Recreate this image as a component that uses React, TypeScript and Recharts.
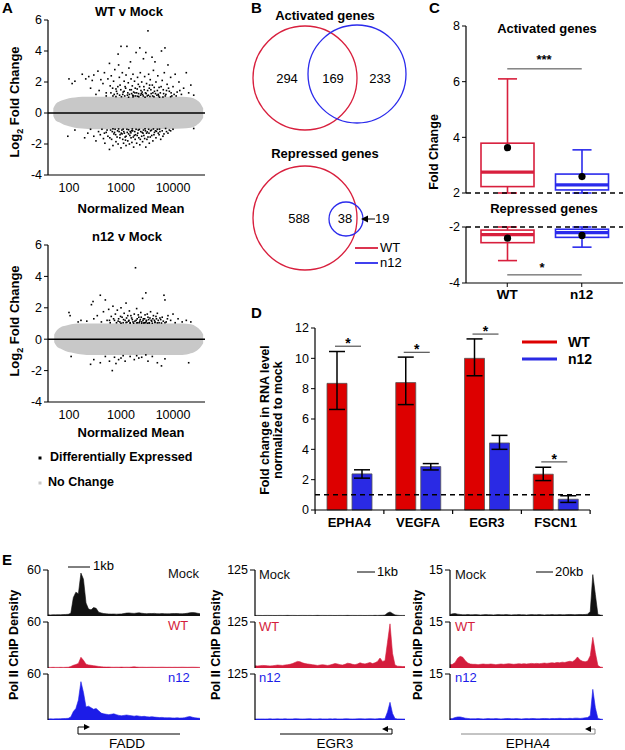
import React from 'react';
import { ComposedChart, ScatterChart, AreaChart, Scatter, Area, Bar, ErrorBar, LabelList, XAxis, YAxis, ReferenceLine } from 'recharts';

const FONT = '"Liberation Sans", Arial, Helvetica, sans-serif';
const RED = '#d81f3d';
const BLUE = '#2b2bec';
const BAR_RED = '#dd0000';
const BAR_BLUE = '#2a2ae4';
const TRACK_COLORS = ['#111111', '#d41c3c', '#1c1ce8'];

// ---------------- Panel A : MA plots ----------------
const maTicks = [100, 1000, 10000];
const lfcTicks = [-4, -2, 0, 2, 4, 6];

const wtBand: [number, number, number][] = [
  [50, -0.2, 0.3], [56, -0.5, 0.6], [65, -0.6, 0.75], [80, -0.75, 0.85], [100, -0.85, 0.95],
  [130, -0.95, 1.0], [180, -1.0, 1.05], [300, -1.05, 1.05], [1000, -1.05, 1.05], [5000, -1.05, 1.05],
  [15000, -1.0, 1.05], [22000, -0.95, 1.0], [28000, -0.8, 0.85], [34000, -0.55, 0.6], [38000, -0.3, 0.3],
];
const n12Band: [number, number, number][] = [
  [52, -0.2, 0.3], [58, -0.45, 0.55], [68, -0.6, 0.75], [85, -0.75, 0.85], [110, -0.85, 0.95],
  [150, -0.95, 1.0], [220, -1.0, 1.0], [400, -1.0, 1.0], [1000, -1.0, 1.0], [5000, -1.0, 1.0],
  [15000, -1.0, 1.0], [22000, -0.9, 0.95], [28000, -0.75, 0.8], [34000, -0.5, 0.55], [38000, -0.25, 0.3],
];

const wtUp: [number, number][] = [
  [100, 2.2], [115, 1.9], [130, 2.05], [180, 2.5], [210, 2.2], [240, 2.35], [260, 1.6], [280, 2.1], [300, 2.45], [330, 1.2],
  [360, 2.7], [380, 1.45], [410, 2.15], [450, 1.9], [480, 2.6], [520, 1.3], [560, 2.2], [600, 3.2], [620, 1.75], [650, 2.4],
  [700, 1.1], [720, 2.05], [760, 2.8], [800, 1.55], [850, 1.25], [880, 3.8], [900, 3.1], [930, 2.3], [960, 1.8], [1000, 4.3],
  [1020, 1.05], [1060, 2.6], [1100, 1.35], [1150, 2.05], [1200, 1.7], [1250, 2.45], [1300, 4.3], [1330, 1.15], [1380, 1.95], [1420, 2.9],
  [1480, 1.5], [1520, 3.3], [1560, 2.2], [1600, 1.25], [1650, 1.75], [1700, 2.5], [1760, 1.1], [1820, 2.05], [1880, 1.6], [1950, 3.9],
  [2000, 1.3], [2080, 2.3], [2150, 1.85], [2200, 1.05], [2300, 4.2], [2350, 2.6], [2420, 1.45], [2500, 2.0], [2600, 1.2], [2700, 3.5],
  [2750, 1.7], [2850, 2.35], [2950, 1.3], [3000, 3.9], [3100, 1.9], [3200, 1.1], [3300, 5.3], [3400, 2.5], [3500, 1.6], [3650, 2.15],
  [3800, 1.25], [3950, 3.6], [4000, 1.8], [4200, 2.75], [4400, 1.4], [4500, 3.3], [4700, 2.0], [4900, 1.15], [5100, 2.4], [5400, 1.65],
  [5700, 1.3], [6000, 4.0], [6200, 2.1], [6500, 1.5], [6800, 2.6], [7000, 4.2], [7300, 1.2], [7700, 1.85], [8000, 3.1], [8500, 1.4],
  [9000, 2.3], [9500, 1.1], [10000, 1.7], [11000, 2.5], [12000, 1.35], [13000, 2.0], [14500, 1.2], [16000, 1.6], [18000, 2.6], [20000, 1.3],
  [22000, 1.8], [25000, 1.15], [1400, 1.02], [2100, 1.08], [2900, 1.02], [4300, 1.05], [6400, 1.03], [1700, 1.04], [800, 1.06], [3600, 1.07],
  [5500, 1.02], [9000, 1.05], [1150, 1.4], [1750, 1.35], [2450, 1.25], [3250, 1.45], [4100, 1.3], [5200, 1.2], [7500, 1.45], [11500, 1.1],
  [520, 1.1], [640, 1.3], [690, 1.6], [740, 1.2], [820, 1.4], [870, 1.7], [940, 1.15], [990, 1.5], [1080, 1.2], [1180, 1.1],
  [1230, 1.6], [1350, 1.3], [1450, 1.2], [1580, 1.5], [1680, 1.15], [1850, 1.3], [1920, 1.1], [2050, 1.55], [2180, 1.25], [2280, 1.7],
  [2380, 1.15], [2550, 1.35], [2680, 1.1], [2800, 1.5], [3050, 1.25], [3350, 1.15], [3550, 1.8], [3750, 1.5], [4050, 1.1], [4350, 1.65],
  [4600, 1.25], [5000, 1.45], [5300, 1.1], [5900, 1.7], [6600, 1.25], [7100, 1.1], [8200, 1.6], [9200, 1.3], [10500, 1.2], [13500, 1.45],
];
const wtDown: [number, number][] = [
  [95, -1.5], [130, -1.1], [200, -1.6], [230, -1.3], [260, -1.05], [300, -1.5], [330, -1.8], [370, -1.2], [400, -1.4], [430, -1.05],
  [460, -1.65], [490, -1.95], [520, -1.25], [560, -1.5], [600, -2.35], [630, -1.1], [660, -1.7], [700, -2.1], [730, -1.35], [770, -1.05],
  [800, -1.85], [840, -1.55], [880, -2.0], [920, -1.2], [960, -1.4], [1000, -2.25], [1040, -1.1], [1080, -1.7], [1120, -1.95], [1160, -1.3],
  [1200, -1.55], [1250, -2.1], [1300, -1.05], [1350, -1.8], [1400, -1.35], [1450, -2.0], [1500, -1.2], [1560, -1.6], [1620, -1.9], [1680, -1.15],
  [1750, -2.2], [1800, -1.45], [1870, -1.7], [1950, -1.05], [2000, -1.95], [2100, -1.3], [2200, -1.6], [2300, -2.05], [2400, -1.2], [2500, -1.5],
  [2600, -1.85], [2700, -1.1], [2850, -1.65], [3000, -2.2], [3100, -1.3], [3300, -1.55], [3500, -1.95], [3700, -1.15], [3900, -1.45], [4100, -1.8],
  [4400, -1.25], [4700, -1.6], [5000, -1.05], [5400, -1.4], [5800, -1.7], [6200, -1.15], [6700, -1.35], [7200, -1.0], [8000, -1.3], [9000, -1.15],
  [10000, -1.05], [25000, -1.0], [700, -1.02], [1100, -1.04], [1650, -1.03], [2250, -1.06], [2900, -1.02], [3400, -1.05], [4200, -1.03], [1400, -1.08],
  [900, -1.03], [5500, -1.04], [750, -1.25], [1050, -1.35], [1550, -1.28], [1900, -1.4], [2650, -1.3], [3200, -1.22], [4800, -1.18], [1250, -1.5],
  [480, -1.3], [540, -1.1], [610, -1.6], [680, -1.2], [790, -1.4], [860, -1.15], [950, -1.6], [1010, -1.3], [1130, -1.2], [1220, -1.75],
  [1320, -1.25], [1480, -1.45], [1600, -1.15], [1720, -1.55], [1840, -1.2], [2050, -1.45], [2150, -1.1], [2350, -1.7], [2550, -1.25], [2750, -1.45],
  [2950, -1.15], [3150, -1.7], [3450, -1.3], [3650, -1.55], [3850, -1.1], [4300, -1.4], [4600, -1.15], [5200, -1.3], [5600, -1.2], [6400, -1.5],
  [7500, -1.2], [8500, -1.1],
];
const n12Up: [number, number][] = [
  [100, 1.7], [105, 1.5], [150, 1.1], [170, 1.2], [220, 1.15], [270, 2.2], [290, 2.4], [300, 1.3], [350, 1.5], [400, 2.8],
  [420, 1.1], [460, 1.75], [500, 2.5], [540, 1.2], [580, 1.9], [620, 1.05], [650, 1.45], [700, 2.1], [750, 1.2], [780, 1.6],
  [820, 1.05], [850, 1.85], [900, 1.3], [950, 1.1], [1000, 2.0], [1050, 1.4], [1100, 1.05], [1150, 1.65], [1200, 1.2], [1250, 2.3],
  [1300, 1.08], [1350, 1.5], [1400, 1.15], [1450, 1.8], [1500, 1.05], [1600, 1.35], [1700, 1.1], [1800, 1.6], [1900, 4.55], [1950, 1.2],
  [2000, 1.95], [2100, 1.05], [2200, 1.4], [2300, 1.15], [2400, 1.7], [2500, 1.1], [2600, 2.6], [2700, 1.3], [2800, 1.05], [2900, 1.55],
  [3000, 2.95], [3100, 1.2], [3300, 1.4], [3500, 1.05], [3700, 1.75], [3900, 1.15], [4200, 1.5], [4500, 1.1], [4800, 1.3], [5000, 1.65],
  [5400, 1.05], [5800, 1.25], [6200, 1.4], [6700, 2.8], [7000, 2.5], [7400, 1.1], [8000, 1.5], [9000, 1.2], [10000, 1.6], [11000, 1.05],
  [12500, 1.3], [15000, 1.1], [18000, 1.2], [22000, 1.1], [1000, 1.02], [1500, 1.03], [2000, 1.04], [2500, 1.02], [3000, 1.05], [3500, 1.03],
  [4000, 1.02], [5000, 1.04], [1250, 1.06], [1750, 1.02], [2250, 1.05], [2750, 1.03], [3250, 1.02], [4500, 1.06], [6000, 1.03], [7000, 1.05],
  [600, 1.2], [720, 1.3], [880, 1.15], [980, 1.45], [1120, 1.25], [1280, 1.35], [1420, 1.2], [1550, 1.5], [1650, 1.25], [1850, 1.15],
  [2050, 1.3], [2150, 1.55], [2350, 1.25], [2450, 1.4], [2650, 1.2], [2850, 1.3], [3050, 1.15], [3200, 1.6], [3400, 1.25], [3600, 1.35],
  [3800, 1.2], [4100, 1.3], [4400, 1.2], [4700, 1.45], [5200, 1.2], [5600, 1.35], [6500, 1.15], [7800, 1.3],
];
const n12Down: [number, number][] = [
  [110, -1.1], [260, -1.6], [300, -1.3], [400, -1.5], [500, -1.1], [600, -1.4], [680, -2.0], [750, -1.15], [800, -1.55], [900, -1.3],
  [1000, -1.2], [1100, -1.05], [1200, -1.4], [1500, -1.1], [1800, -1.3], [2000, -1.05], [2200, -1.2], [2500, -1.15], [3000, -1.0], [3300, -1.4],
  [4000, -1.1], [5000, -1.5], [6000, -1.7], [7000, -1.25], [20000, -1.5],
];

// ---------------- Panel B : Venn ----------------
const activatedCounts = [294, 169, 233];
const repressedCounts = [588, 38, 19];

// ---------------- Panel C : box plots ----------------
const activatedBoxes = [
  { g: 'WT', min: 2.0, q1: 2.23, med: 2.75, q3: 3.79, max: 6.1, mean: 3.63 },
  { g: 'n12', min: 2.0, q1: 2.11, med: 2.29, q3: 2.68, max: 3.55, mean: 2.59 },
];
const repressedBoxes = [
  { g: 'WT', min: -3.2, q1: -2.56, med: -2.27, q3: -2.11, max: -2.0, mean: -2.4 },
  { g: 'n12', min: -2.72, q1: -2.37, med: -2.2, q3: -2.08, max: -2.0, mean: -2.3 },
];
const boxColor: Record<string, string> = { WT: RED, n12: BLUE };

// ---------------- Panel D : bar chart ----------------
const genesD = ['EPHA4', 'VEGFA', 'EGR3', 'FSCN1'];
const wtFold = [8.35, 8.4, 10.0, 2.36];
const wtFoldErr: [number, number][] = [[1.72, 2.1], [1.45, 1.68], [1.15, 1.28], [0.42, 0.46]];
const n12Fold = [2.38, 2.86, 4.42, 0.71];
const n12FoldErr: [number, number][] = [[0.28, 0.27], [0.22, 0.2], [0.42, 0.5], [0.21, 0.23]];
const sigHeights = [10.8, 10.4, 11.6, 3.17];
const dTicks = [0, 2, 4, 6, 8, 10, 12];

// ---------------- Panel E : Pol II tracks ----------------
const mockFADD = [1.5, 1.4, 1.6, 1.5, 1.7, 1.6, 1.8, 2.0, 2.2, 3.5, 24, 31, 29, 56, 48, 17, 9, 8, 11, 10, 5, 4, 3.2, 2.8, 2.6, 2.5, 2.6, 2.4, 2.5, 2.7, 3.2, 3.8, 4, 3.6, 3.4, 3.8, 4.1, 3.6, 3.2, 3, 3.3, 3.1, 3.4, 3, 2.9, 3.1, 3.0, 2.8, 2.9, 3.1, 3.2, 3.3, 3.0, 2.9, 3.1, 3.6, 4.2, 4.5, 4.3, 3.6, 3.0];
const wtFADD = [0.8, 0.8, 0.9, 0.8, 0.8, 0.9, 0.8, 0.9, 1.0, 2.0, 3.5, 4.5, 6, 14, 10, 5, 4, 3.5, 3, 2.5, 2, 1.6, 1.4, 1.2, 1.3, 1.1, 1.0, 1.1, 1.0, 1.2, 1.0, 1.1, 1.0, 1.3, 1.6, 1.2, 1.0, 1.1, 1.0, 0.9, 1.0, 1.1, 1.0, 0.9, 1.0, 1.1, 1.0, 0.9, 1.0, 0.9, 1.0, 0.9, 1.0, 1.1, 1.0, 0.9, 1.0, 1.1, 1.0, 0.9, 0.8];
const n12FADD = [1.3, 1.5, 1.4, 1.6, 1.5, 1.7, 1.8, 2.0, 2.2, 4, 11, 15, 26, 50, 36, 17, 18, 16, 14, 15, 12, 9, 8, 7.5, 7, 7.5, 8, 7, 6, 5.5, 6, 6.5, 6, 5.5, 5, 5.5, 5, 4.5, 4.8, 4.2, 4, 4.3, 3.8, 3.5, 3.2, 3.4, 3, 2.8, 3, 2.7, 2.6, 2.8, 2.5, 2.7, 3, 4, 4.5, 3.6, 2.8, 2.5, 2.2];
const mockEGR3 = [1.5, 1.6, 1.5, 1.4, 1.5, 1.6, 1.5, 1.5, 1.4, 1.5, 1.6, 1.5, 1.5, 1.7, 1.5, 1.6, 1.5, 1.4, 1.5, 1.6, 1.5, 1.5, 1.6, 1.4, 1.5, 1.7, 1.5, 1.6, 1.5, 1.5, 1.6, 1.5, 1.4, 1.5, 1.6, 1.5, 1.5, 1.7, 1.5, 1.6, 1.5, 1.5, 1.6, 1.5, 1.4, 1.5, 1.6, 1.5, 1.7, 1.6, 1.8, 2.0, 2.5, 8, 11, 7, 3, 2, 1.5, 1.5, 1.5];
const wtEGR3 = [6, 5.5, 6, 7, 6.5, 6, 5.5, 6, 7, 8, 7.5, 7, 8, 9, 10, 12, 15, 18, 17, 14, 12, 11, 10, 9, 8, 7, 8, 9, 8, 7, 8, 10, 12, 11, 9, 8, 10, 13, 12, 10, 9, 11, 14, 12, 11, 13, 15, 12, 14, 18, 27, 18, 20, 70, 120, 40, 8, 5, 4.5, 4, 4];
const n12EGR3 = [2.5, 3, 2.8, 3, 2.7, 3, 3.2, 2.8, 3, 3.1, 2.9, 3, 3.3, 3, 2.8, 3, 3.5, 3.2, 3, 2.9, 3, 3.1, 3.4, 3, 2.8, 3, 3.2, 3, 2.9, 3, 3.1, 3, 3.3, 3, 2.8, 3, 3.2, 3.4, 3, 2.9, 3, 3.2, 3.5, 3.1, 3, 3.3, 3.6, 3.2, 3, 3.5, 4, 3.5, 4, 22, 48, 18, 4, 3, 2.8, 2.7, 2.5];
const mockEPHA4 = [0.5, 0.7, 0.8, 0.6, 0.5, 0.4, 0.4, 0.5, 0.4, 0.4, 0.45, 0.4, 0.35, 0.4, 0.45, 0.4, 0.4, 0.35, 0.4, 0.45, 0.4, 0.4, 0.45, 0.4, 0.35, 0.4, 0.4, 0.45, 0.4, 0.4, 0.35, 0.4, 0.45, 0.4, 0.4, 0.45, 0.4, 0.35, 0.4, 0.4, 0.45, 0.4, 0.4, 0.45, 0.4, 0.4, 0.45, 0.5, 0.45, 0.4, 0.45, 0.5, 0.45, 0.5, 0.6, 1.5, 13.5, 7, 0.5, 0.3, 0.2];
const wtEPHA4 = [1.1, 1.2, 1.8, 3.2, 3.8, 3.5, 2.4, 1.6, 1.3, 1.2, 1.2, 1.1, 1.2, 1.3, 1.2, 1.2, 1.3, 1.2, 1.1, 1.2, 1.3, 1.2, 1.3, 1.4, 1.3, 1.2, 1.3, 1.4, 1.3, 1.4, 1.3, 1.4, 1.5, 1.4, 1.5, 1.4, 1.5, 1.6, 1.5, 1.6, 1.7, 1.6, 1.8, 1.7, 1.9, 1.8, 2.0, 2.2, 2.0, 2.6, 3.6, 2.6, 2.2, 2.0, 2.3, 4, 10, 5, 0.8, 0.3, 0.2];
const n12EPHA4 = [0.4, 0.5, 0.8, 1.0, 1.0, 0.8, 0.6, 0.5, 0.4, 0.4, 0.4, 0.45, 0.4, 0.35, 0.4, 0.45, 0.4, 0.4, 0.45, 0.4, 0.35, 0.4, 0.45, 0.5, 0.4, 0.4, 0.45, 0.4, 0.35, 0.4, 0.45, 0.4, 0.5, 0.45, 0.4, 0.4, 0.45, 0.5, 0.45, 0.4, 0.5, 0.45, 0.5, 0.55, 0.5, 0.45, 0.5, 0.55, 0.5, 0.6, 0.6, 0.5, 0.6, 0.7, 0.8, 1.5, 10, 4, 0.5, 0.3, 0.2];
const trackLabels = ['Mock', 'WT', 'n12'];

// ---------------- helpers ----------------
type TP = { x: number; y: number; children: React.ReactNode; size?: number; bold?: boolean; color?: string; anchor?: 'start' | 'middle' | 'end'; rotate?: boolean };
function T({ x, y, children, size = 12.5, bold = false, color = '#000', anchor = 'start', rotate = false }: TP) {
  const tx = anchor === 'middle' ? '-50%' : anchor === 'end' ? '-100%' : '0';
  return (
    <div style={{
      position: 'absolute', left: x, top: y,
      transform: rotate ? 'translate(-50%,-50%) rotate(-90deg)' : `translate(${tx},-50%)`,
      fontFamily: FONT, fontSize: size, fontWeight: bold ? 700 : 400, color, whiteSpace: 'nowrap',
      lineHeight: 1.05, textAlign: 'center',
    }}>{children}</div>
  );
}

const tickStyle = { fill: '#000', fontSize: 12.5, fontFamily: FONT };
const axisLine = { stroke: '#000', strokeWidth: 1.2 };

const blackDot = (p: any) => <rect x={p.cx - 0.8} y={p.cy - 0.8} width={1.6} height={1.6} fill="#000" />;

function MAPlot({ top, height, band, up, down }: { top: number; height: number; band: [number, number, number][]; up: [number, number][]; down: [number, number][] }) {
  const bandData = band.map(([x, lo, hi]) => ({ x, band: [lo, hi] }));
  const pts = [...up, ...down].map(([x, y]) => ({ x, y }));
  return (
    <div style={{ position: 'absolute', left: 0, top }}>
      <ComposedChart width={215} height={height} data={bandData} margin={{ top: 20, right: 10, left: 0, bottom: 0 }}>
        <XAxis dataKey="x" type="number" scale="log" domain={[39.5, 41200]} ticks={maTicks} allowDataOverflow
          tickLine={false} axisLine={axisLine} height={25} tick={tickStyle} interval={0} />
        <YAxis type="number" domain={[-4, 6]} ticks={lfcTicks} width={48} tickSize={4} axisLine={axisLine}
          tickLine={{ stroke: '#000' }} tick={tickStyle} interval={0} />
        <Area dataKey="band" type="monotone" stroke="none" fill="#c8c8c8" fillOpacity={1} isAnimationActive={false} />
        <ReferenceLine y={0} stroke="#000" strokeWidth={1.6} />
        <Scatter data={pts} dataKey="y" shape={blackDot} isAnimationActive={false} />
      </ComposedChart>
    </div>
  );
}

function BoxShape(props: any) {
  const { x, y, width, height, payload } = props;
  const top = Math.min(y, y + height);
  const bot = Math.max(y, y + height);
  const px = (v: number) => bot - ((v - payload.min) / (payload.max - payload.min)) * (bot - top);
  const c = boxColor[payload.g];
  const cx = x + width / 2;
  const cap = width * 0.18;
  return (
    <g>
      <line x1={cx} x2={cx} y1={px(payload.max)} y2={px(payload.q3)} stroke={c} strokeWidth={1.6} />
      <line x1={cx} x2={cx} y1={px(payload.q1)} y2={px(payload.min)} stroke={c} strokeWidth={1.6} />
      <line x1={cx - cap} x2={cx + cap} y1={px(payload.max)} y2={px(payload.max)} stroke={c} strokeWidth={1.6} />
      <line x1={cx - cap} x2={cx + cap} y1={px(payload.min)} y2={px(payload.min)} stroke={c} strokeWidth={1.6} />
      <rect x={x} y={px(payload.q3)} width={width} height={px(payload.q1) - px(payload.q3)} fill="#fff" stroke={c} strokeWidth={1.6} />
      <line x1={x} x2={x + width} y1={px(payload.med)} y2={px(payload.med)} stroke={c} strokeWidth={3.2} />
      <circle cx={cx} cy={px(payload.mean)} r={3.6} fill="#000" />
    </g>
  );
}

// significance bracket + category boundary tick, placed from the WT bar geometry
const BAND_W = 68.75;
function SigMark(p: any) {
  const vb = p.viewBox && p.viewBox.width !== undefined ? p.viewBox : p;
  const x = Number(vb.x), y = Number(vb.y), w = Number(vb.width), h = Number(vb.height);
  const i = Number(p.index);
  if (!isFinite(x) || !isFinite(h) || !isFinite(i)) return null;
  const top = Math.min(y, y + h);
  const base = Math.max(y, y + h);
  const ppu = (base - top) / wtFold[i];
  const sy = base - sigHeights[i] * ppu;
  const x1 = x + 0.4 * w;
  const x2 = x + 1.7 * w;
  const bx = x - (BAND_W - 2 * w - 5) / 2;
  return (
    <g>
      <line x1={x1} x2={x2} y1={sy} y2={sy} stroke="#333" strokeWidth={1} />
      <text x={(x1 + x2) / 2} y={sy + 2} textAnchor="middle" fontSize={14} fontWeight={700} fontFamily={FONT} fill="#000">*</text>
      <line x1={bx} x2={bx} y1={base} y2={base + 4} stroke="#000" strokeWidth={1.2} />
      {i === genesD.length - 1 && <line x1={bx + BAND_W} x2={bx + BAND_W} y1={base} y2={base + 4} stroke="#000" strokeWidth={1.2} />}
    </g>
  );
}

function Track({ left, top, width, yw, mr, data, max, color, axis }: any) {
  const d = data.map((v: number, i: number) => ({ i, v }));
  return (
    <div style={{ position: 'absolute', left, top: top - 8 }}>
      <AreaChart width={width} height={57} data={d} margin={{ top: 8, right: mr, left: 0, bottom: 3 }}>
        <XAxis dataKey="i" type="number" domain={[0, 60]} hide={!axis} tick={false} tickLine={false} height={0} axisLine={axisLine} />
        <YAxis type="number" domain={[0, max]} ticks={[max]} width={yw} tickSize={5} axisLine={axisLine}
          tickLine={{ stroke: '#000' }} tick={tickStyle} interval={0} />
        <Area type="linear" dataKey="v" stroke={color} strokeWidth={0.6} fill={color} fillOpacity={1} isAnimationActive={false} baseValue={0} />
      </AreaChart>
    </div>
  );
}

export default function App() {
  const vennLayout = [
    { x: 90, y: 78, r: 52, c: RED },
    { x: 142, y: 74, r: 49, c: BLUE },
    { x: 90, y: 218, r: 52, c: RED },
    { x: 131, y: 219, r: 17, c: BLUE },
  ];
  const vennShape = (p: any) => <circle cx={p.cx} cy={p.cy} r={p.payload.r} fill="none" stroke={p.payload.c} strokeWidth={1.3} />;

  const dData = genesD.map((g, i) => ({ gene: g, wt: wtFold[i], wtErr: wtFoldErr[i], n12: n12Fold[i], n12Err: n12FoldErr[i] }));

  const trackCols = [
    { left: 0, width: 205, yw: 48, mr: 5, max: 60, series: [mockFADD, wtFADD, n12FADD] },
    { left: 205, width: 205, yw: 50, mr: 5, max: 125, series: [mockEGR3, wtEGR3, n12EGR3] },
    { left: 410, width: 200, yw: 40, mr: 7, max: 15, series: [mockEPHA4, wtEPHA4, n12EPHA4] },
  ];
  const trackTops = [570, 622, 674];

  return (
    <div style={{ position: 'absolute', left: 0, top: 0, width: 625, height: 750, background: '#fff', overflow: 'hidden', fontFamily: FONT }}>
      {/* Panel A */}
      <MAPlot top={0} height={200} band={wtBand} up={wtUp} down={wtDown} />
      <MAPlot top={225} height={202} band={n12Band} up={n12Up} down={n12Down} />

      {/* Panel B: Venn */}
      <div style={{ position: 'absolute', left: 215, top: 0 }}>
        <ScatterChart width={200} height={300} margin={{ top: 0, right: 0, left: 0, bottom: 0 }}>
          <XAxis dataKey="x" type="number" domain={[0, 200]} hide />
          <YAxis dataKey="y" type="number" domain={[0, 300]} reversed hide />
          <Scatter data={vennLayout} shape={vennShape} isAnimationActive={false} />
        </ScatterChart>
      </div>

      {/* Panel C upper */}
      <div style={{ position: 'absolute', left: 410, top: 0 }}>
        <ComposedChart width={215} height={200} data={activatedBoxes} margin={{ top: 26, right: 2, left: 0, bottom: 7 }} barSize={53}>
          <XAxis dataKey="g" hide padding={{ left: 4, right: 4 }} />
          <YAxis type="number" domain={[2, 8]} ticks={[2, 4, 6, 8]} width={56} tickSize={4} axisLine={axisLine}
            tickLine={{ stroke: '#000' }} tick={tickStyle} interval={0} />
          <ReferenceLine y={2} stroke="#000" strokeDasharray="5 4" strokeWidth={1.3} />
          <Bar dataKey={(d: any) => [d.min, d.max]} shape={BoxShape} isAnimationActive={false} />
          <ReferenceLine segment={[{ x: 'WT', y: 6.46 }, { x: 'n12', y: 6.46 }]} stroke="#444" strokeWidth={1} />
        </ComposedChart>
      </div>
      {/* Panel C lower */}
      <div style={{ position: 'absolute', left: 410, top: 205 }}>
        <ComposedChart width={215} height={100} data={repressedBoxes} margin={{ top: 22, right: 2, left: 0, bottom: 5 }} barSize={53}>
          <XAxis dataKey="g" padding={{ left: 4, right: 4 }} height={17} tickSize={4} axisLine={axisLine}
            tickLine={{ stroke: '#000' }} tick={{ ...tickStyle, fontSize: 13.5, fontWeight: 700 }} interval={0} />
          <YAxis type="number" domain={[-4, -2]} ticks={[-4, -2]} width={56} tickSize={4} axisLine={axisLine}
            tickLine={{ stroke: '#000' }} tick={tickStyle} interval={0} />
          <ReferenceLine y={-2} stroke="#000" strokeDasharray="5 4" strokeWidth={1.3} />
          <Bar dataKey={(d: any) => [d.min, d.max]} shape={BoxShape} isAnimationActive={false} />
          <ReferenceLine segment={[{ x: 'WT', y: -3.71 }, { x: 'n12', y: -3.71 }]} stroke="#444" strokeWidth={1} />
        </ComposedChart>
      </div>

      {/* Panel D */}
      <div style={{ position: 'absolute', left: 210, top: 300 }}>
        <ComposedChart width={415} height={235} data={dData} margin={{ top: 28, right: 35, left: 0, bottom: 0 }} barSize={20} barGap={5}>
          <XAxis dataKey="gene" tickLine={false} axisLine={axisLine} height={25} interval={0}
            tick={{ ...tickStyle, fontSize: 13, fontWeight: 700 }} />
          <YAxis type="number" domain={[0, 12]} ticks={dTicks} width={105} tickSize={4} axisLine={axisLine}
            tickLine={{ stroke: '#000' }} tick={tickStyle} interval={0} />
          <Bar dataKey="wt" fill={BAR_RED} stroke="#555" strokeWidth={0.8} isAnimationActive={false}>
            <ErrorBar dataKey="wtErr" width={8} stroke="#000" strokeWidth={1.5} direction="y" />
            <LabelList dataKey="wt" content={SigMark} />
          </Bar>
          <Bar dataKey="n12" fill={BAR_BLUE} stroke="#555" strokeWidth={0.8} isAnimationActive={false}>
            <ErrorBar dataKey="n12Err" width={8} stroke="#000" strokeWidth={1.5} direction="y" />
          </Bar>
          <ReferenceLine y={1} stroke="#000" strokeDasharray="5 4" strokeWidth={1.5} />
        </ComposedChart>
      </div>

      {/* Panel E tracks */}
      {trackCols.map((col, ci) => col.series.map((s, k) => (
        <Track key={ci + '-' + k} left={col.left} top={trackTops[k]} width={col.width} yw={col.yw} mr={col.mr}
          data={s} max={col.max} color={TRACK_COLORS[k]} axis={k === 2} />
      )))}

      {/* annotation overlay */}
      <svg width={625} height={750} style={{ position: 'absolute', left: 0, top: 0, pointerEvents: 'none' }}>
        <rect x={38.5} y={456.5} width={3} height={3} fill="#000" />
        <rect x={38.5} y={481.5} width={3} height={3} fill="#c8c8c8" />
        <polygon points="361,219 368,215.5 368,222.5" fill="#000" />
        <line x1={367} x2={375} y1={219} y2={219} stroke="#000" strokeWidth={1} />
        <line x1={355} x2={378} y1={248} y2={248} stroke={RED} strokeWidth={1.8} />
        <line x1={355} x2={378} y1={263} y2={263} stroke={BLUE} strokeWidth={1.8} />
        <line x1={522} x2={557} y1={342} y2={342} stroke={BAR_RED} strokeWidth={3} />
        <line x1={522} x2={557} y1={359} y2={359} stroke={BAR_BLUE} strokeWidth={3} />
        <line x1={68} x2={90} y1={567} y2={567} stroke="#000" strokeWidth={1} />
        <line x1={357} x2={375} y1={572} y2={572} stroke="#000" strokeWidth={1} />
        <line x1={536} x2={553} y1={572} y2={572} stroke="#000" strokeWidth={1} />
        <polyline points="180,734 78,734 78,727 84,727" fill="none" stroke="#000" strokeWidth={1} />
        <polygon points="90,727 84,724 84,730" fill="#000" />
        <polyline points="280,734 392,734 392,729 388,729" fill="none" stroke="#000" strokeWidth={1} />
        <polygon points="382,729 388,726 388,732" fill="#000" />
        <polyline points="461,734 595,734 595,729 591,729" fill="none" stroke="#888" strokeWidth={1} />
        <polygon points="585,729 591,726 591,732" fill="#000" />
      </svg>

      {/* panel letters */}
      <T x={2} y={8} size={15} bold>A</T>
      <T x={251} y={8} size={15} bold>B</T>
      <T x={429} y={8} size={15} bold>C</T>
      <T x={251} y={313} size={15} bold>D</T>
      <T x={2} y={560} size={15} bold>E</T>

      {/* A texts */}
      <T x={129} y={12} size={13} bold anchor="middle">WT v Mock</T>
      <T x={127} y={237} size={13} bold anchor="middle">n12 v Mock</T>
      <T x={17} y={102} size={13} bold rotate>Log<sub style={{ fontSize: 9 }}>2</sub> Fold Change</T>
      <T x={17} y={321} size={13} bold rotate>Log<sub style={{ fontSize: 9 }}>2</sub> Fold Change</T>
      <T x={131} y={209} size={13} bold anchor="middle">Normalized Mean</T>
      <T x={131} y={433} size={13} bold anchor="middle">Normalized Mean</T>
      <T x={50} y={458} size={12.5} bold>Differentially Expressed</T>
      <T x={48} y={483} size={12.5} bold>No Change</T>

      {/* B texts */}
      <T x={325} y={16} size={13} bold anchor="middle">Activated genes</T>
      <T x={287} y={79} size={13} anchor="middle">{activatedCounts[0]}</T>
      <T x={333} y={79} size={13} anchor="middle">{activatedCounts[1]}</T>
      <T x={380} y={79} size={13} anchor="middle">{activatedCounts[2]}</T>
      <T x={325} y={154} size={13} bold anchor="middle">Repressed genes</T>
      <T x={299} y={219} size={13} anchor="middle">{repressedCounts[0]}</T>
      <T x={345} y={219} size={13} anchor="middle">{repressedCounts[1]}</T>
      <T x={375} y={219} size={13}>{repressedCounts[2]}</T>
      <T x={380} y={248} size={13}>WT</T>
      <T x={380} y={263} size={13}>n12</T>

      {/* C texts */}
      <T x={547} y={29} size={13} bold anchor="middle">Activated genes</T>
      <T x={544} y={60} size={13} bold anchor="middle">***</T>
      <T x={544} y={209} size={13} bold anchor="middle">Repressed genes</T>
      <T x={542} y={268} size={13} bold anchor="middle">*</T>
      <T x={435} y={152} size={12.5} bold rotate>Fold Change</T>

      {/* D texts */}
      <T x={272} y={420} size={12.5} bold rotate>Fold change in RNA level<br />normalized to mock</T>
      <T x={568} y={342} size={14} bold>WT</T>
      <T x={568} y={359} size={14} bold>n12</T>

      {/* E texts */}
      <T x={15} y={645} size={12.5} bold rotate>Pol II ChIP Density</T>
      <T x={217} y={645} size={12.5} bold rotate>Pol II ChIP Density</T>
      <T x={419} y={645} size={12.5} bold rotate>Pol II ChIP Density</T>
      <T x={93} y={566} size={13}>1kb</T>
      <T x={377} y={572} size={13}>1kb</T>
      <T x={555} y={572} size={13}>20kb</T>
      <T x={168} y={574} size={13} color={TRACK_COLORS[0]}>{trackLabels[0]}</T>
      <T x={168} y={626} size={13} color={TRACK_COLORS[1]}>{trackLabels[1]}</T>
      <T x={168} y={678} size={13} color={TRACK_COLORS[2]}>{trackLabels[2]}</T>
      <T x={259} y={575} size={13} color={TRACK_COLORS[0]}>{trackLabels[0]}</T>
      <T x={259} y={627} size={13} color={TRACK_COLORS[1]}>{trackLabels[1]}</T>
      <T x={259} y={678} size={13} color={TRACK_COLORS[2]}>{trackLabels[2]}</T>
      <T x={455} y={575} size={13} color={TRACK_COLORS[0]}>{trackLabels[0]}</T>
      <T x={455} y={627} size={13} color={TRACK_COLORS[1]}>{trackLabels[1]}</T>
      <T x={455} y={678} size={13} color={TRACK_COLORS[2]}>{trackLabels[2]}</T>
      <T x={127} y={744} size={13.5} anchor="middle">FADD</T>
      <T x={335} y={744} size={13.5} anchor="middle">EGR3</T>
      <T x={528} y={744} size={13.5} anchor="middle">EPHA4</T>
    </div>
  );
}
